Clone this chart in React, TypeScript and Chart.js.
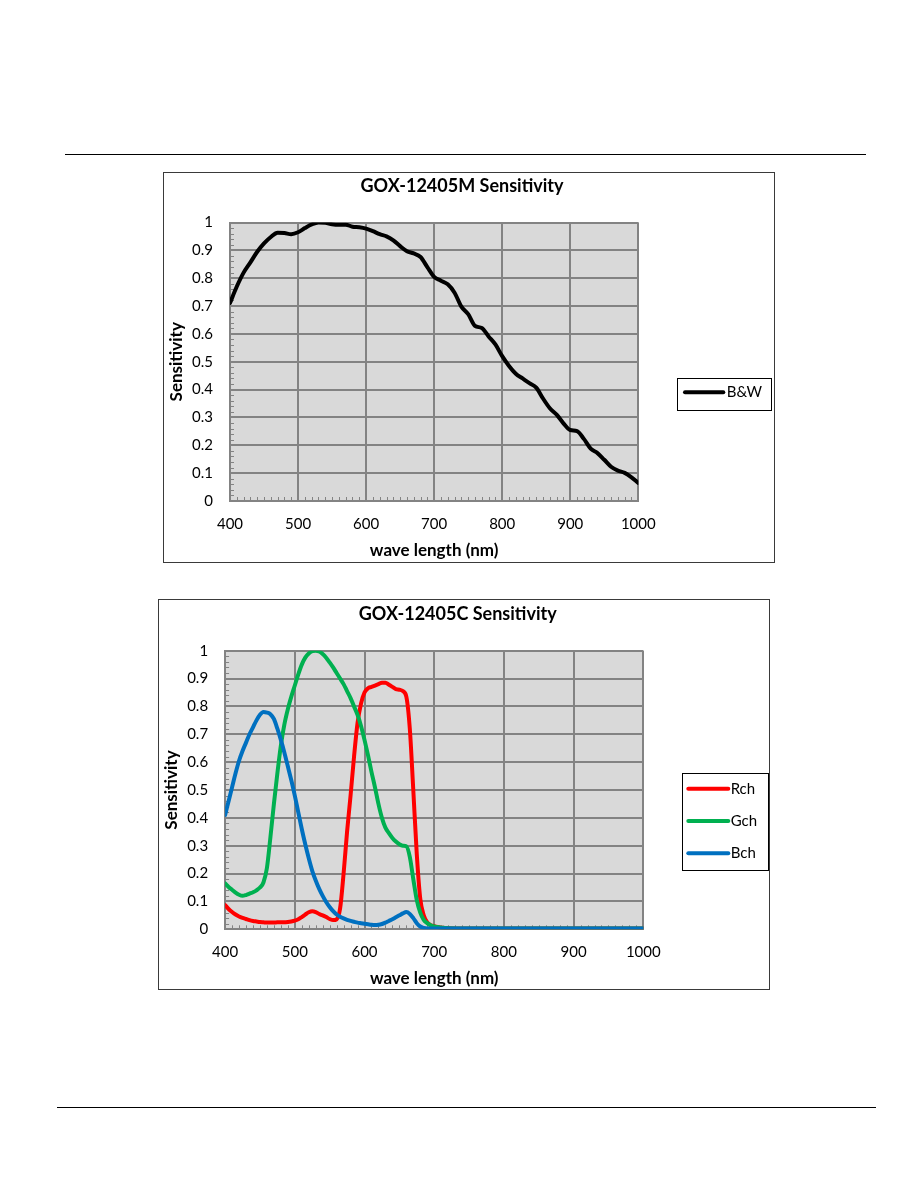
import React, { useEffect, useRef } from 'react';
import { Chart, registerables } from 'chart.js';

Chart.register(...registerables);

// ---------- DATA ----------
const BW_WAVELENGTHS = [
  400, 410, 420, 430, 440, 450, 460, 470, 480, 490,
  500, 510, 520, 530, 540, 550, 560, 570, 580, 590,
  600, 610, 620, 630, 640, 650, 660, 670, 680, 690,
  700, 710, 720, 730, 740, 750, 760, 770, 780, 790,
  800, 810, 820, 830, 840, 850, 860, 870, 880, 890,
  900, 910, 920, 930, 940, 950, 960, 970, 980, 990,
  1000,
];
const BW_VALUES = [
  0.711, 0.77, 0.82, 0.857, 0.895, 0.925, 0.948, 0.963, 0.962, 0.958,
  0.965, 0.98, 0.993, 1.0, 0.999, 0.994, 0.992, 0.992, 0.985, 0.983,
  0.978, 0.969, 0.958, 0.95, 0.936, 0.915, 0.897, 0.889, 0.876, 0.84,
  0.805, 0.791, 0.778, 0.748, 0.698, 0.671, 0.629, 0.621, 0.591, 0.562,
  0.52, 0.485, 0.457, 0.44, 0.423, 0.407, 0.368, 0.333, 0.31, 0.279,
  0.255, 0.251, 0.223, 0.188, 0.172, 0.148, 0.123, 0.109, 0.101, 0.085,
  0.065,
];

const RGB_WAVELENGTHS = [
  400, 405, 410, 415, 420, 425, 430, 435, 440, 445,
  450, 455, 460, 465, 470, 475, 480, 485, 490, 495,
  500, 505, 510, 515, 520, 525, 530, 535, 540, 545,
  550, 555, 560, 565, 570, 575, 580, 585, 590, 595,
  600, 605, 610, 615, 620, 625, 630, 635, 640, 645,
  650, 655, 660, 665, 670, 675, 680, 685, 690, 695,
  700, 705, 710, 715, 720,
  750, 800, 850, 900, 950, 1000,
];
const RCH_VALUES = [
  0.087, 0.073, 0.062, 0.053, 0.046, 0.041, 0.037, 0.033, 0.03, 0.028,
  0.026, 0.025, 0.024, 0.024, 0.024, 0.025, 0.025, 0.025, 0.026, 0.028,
  0.031, 0.036, 0.044, 0.053, 0.061, 0.065, 0.062, 0.055, 0.05, 0.044,
  0.037, 0.033, 0.036, 0.075, 0.2, 0.35, 0.48, 0.62, 0.74, 0.81,
  0.85, 0.865, 0.87, 0.875, 0.88, 0.885, 0.885, 0.878, 0.87, 0.862,
  0.86, 0.855, 0.835, 0.72, 0.5, 0.27, 0.11, 0.05, 0.025, 0.015,
  0.011, 0.008, 0.006, 0.005, 0.004,
  0.003, 0.003, 0.003, 0.003, 0.003, 0.003,
];
const GCH_VALUES = [
  0.165, 0.152, 0.142, 0.132, 0.124, 0.12, 0.123, 0.128, 0.133, 0.14,
  0.15, 0.168, 0.22, 0.33, 0.45, 0.56, 0.66, 0.735, 0.79, 0.835,
  0.875, 0.915, 0.95, 0.975, 0.99, 0.998, 1.0, 0.997, 0.988, 0.975,
  0.958, 0.94, 0.92, 0.9, 0.88, 0.855, 0.83, 0.8, 0.77, 0.73,
  0.68, 0.625, 0.565, 0.51, 0.45, 0.4, 0.365, 0.345, 0.328, 0.315,
  0.305, 0.3, 0.298, 0.26, 0.18, 0.105, 0.06, 0.034, 0.022, 0.014,
  0.01, 0.008, 0.006, 0.005, 0.004,
  0.003, 0.003, 0.003, 0.003, 0.003, 0.003,
];
const BCH_VALUES = [
  0.41, 0.46, 0.51, 0.56, 0.605, 0.64, 0.67, 0.7, 0.725, 0.75,
  0.77, 0.78, 0.778, 0.772, 0.755, 0.72, 0.68, 0.635, 0.585, 0.535,
  0.48, 0.42, 0.36, 0.305, 0.255, 0.21, 0.175, 0.145, 0.12, 0.098,
  0.08, 0.065, 0.053, 0.045, 0.039, 0.034, 0.03, 0.027, 0.024, 0.022,
  0.02, 0.018, 0.016, 0.015, 0.016, 0.019, 0.024, 0.03, 0.036, 0.043,
  0.05, 0.057, 0.062, 0.055, 0.04, 0.022, 0.01, 0.005, 0.003, 0.003,
  0.003, 0.003, 0.003, 0.003, 0.003,
  0.003, 0.003, 0.003, 0.003, 0.003, 0.003,
];

const X_TICK_LABELS = ['400', '500', '600', '700', '800', '900', '1000'];
const Y_TICK_LABELS = ['0', '0.1', '0.2', '0.3', '0.4', '0.5', '0.6', '0.7', '0.8', '0.9', '1'];

// ---------- STYLE ----------
const FONT = 'Lato';
const PLOT_BG = '#d9d9d9';
const GRID_COLOR = '#838383';
const MINOR_X_STEP = 10;
const MINOR_Y_STEP = 0.02;
const CANVAS_W = 610;
const CANVAS_H = 389;

const toPoints = (xs: number[], ys: number[]) => xs.map((x, i) => ({ x, y: ys[i] }));

const lineStyle = (color: string) => ({
  borderColor: color,
  backgroundColor: color,
  borderWidth: 4,
  pointRadius: 0,
  pointHoverRadius: 0,
  cubicInterpolationMode: 'monotone' as const,
  borderCapStyle: 'round' as const,
  borderJoinStyle: 'round' as const,
  fill: false,
});

type Cfg = {
  title: string;
  datasets: any[];
  titlePad: { top: number; bottom: number };
  padRight: number;
  rightSpace: number;
  yAxisWidth: number;
  xAxisHeight: number;
  xTitlePadBottom: number;
  legend: {
    left: number; top: number; width: number; height: number;
    firstRowY: number; rowStep: number; lineStart: number; lineEnd: number; textX: number;
  };
};

function SpectrumChart({ cfg }: { cfg: Cfg }) {
  const ref = useRef<HTMLCanvasElement | null>(null);
  useEffect(() => {
    if (!ref.current) return;
    const plotBg = {
      id: 'plotBg',
      beforeDraw(chart: any) {
        const { ctx, chartArea } = chart;
        ctx.save();
        ctx.fillStyle = PLOT_BG;
        ctx.fillRect(chartArea.left, chartArea.top, chartArea.width, chartArea.height);
        ctx.restore();
      },
    };
    const minorTicks = {
      id: 'minorTicks',
      beforeDatasetsDraw(chart: any) {
        const { ctx, chartArea, scales } = chart;
        const xs = scales.x;
        const ys = scales.y;
        ctx.save();
        ctx.strokeStyle = GRID_COLOR;
        ctx.lineWidth = 1;
        ctx.beginPath();
        const nx = Math.round((xs.max - xs.min) / MINOR_X_STEP);
        for (let i = 0; i <= nx; i++) {
          const px = Math.round(xs.getPixelForValue(xs.min + i * MINOR_X_STEP)) + 0.5;
          ctx.moveTo(px, chartArea.bottom);
          ctx.lineTo(px, chartArea.bottom - 4);
        }
        const ny = Math.round((ys.max - ys.min) / MINOR_Y_STEP);
        for (let i = 0; i <= ny; i++) {
          const py = Math.round(ys.getPixelForValue(ys.min + i * MINOR_Y_STEP)) + 0.5;
          ctx.moveTo(chartArea.left, py);
          ctx.lineTo(chartArea.left + 4, py);
        }
        ctx.stroke();
        ctx.restore();
      },
    };
    const boxLegend = {
      id: 'boxLegend',
      afterDraw(chart: any) {
        const L = cfg.legend;
        const { ctx } = chart;
        ctx.save();
        ctx.fillStyle = '#ffffff';
        ctx.fillRect(L.left, L.top, L.width, L.height);
        ctx.strokeStyle = '#000000';
        ctx.lineWidth = 1;
        ctx.strokeRect(Math.round(L.left) + 0.5, Math.round(L.top) + 0.5, Math.round(L.width), Math.round(L.height));
        chart.data.datasets.forEach((ds: any, i: number) => {
          const y = L.firstRowY + i * L.rowStep;
          ctx.strokeStyle = ds.borderColor;
          ctx.lineWidth = 4;
          ctx.lineCap = 'round';
          ctx.beginPath();
          ctx.moveTo(L.lineStart, y);
          ctx.lineTo(L.lineEnd, y);
          ctx.stroke();
          ctx.fillStyle = '#000000';
          ctx.font = `15px ${FONT}`;
          ctx.textBaseline = 'middle';
          ctx.textAlign = 'left';
          ctx.fillText(ds.label, L.textX, y);
        });
        ctx.restore();
      },
    };

    const chart = new Chart(ref.current, {
      type: 'line',
      data: { datasets: cfg.datasets },
      options: {
        responsive: false,
        maintainAspectRatio: false,
        animation: false,
        events: [],
        layout: { padding: { left: 0, right: cfg.padRight, top: 0, bottom: 0 }, autoPadding: false },
        plugins: {
          legend: { display: false },
          tooltip: { enabled: false },
          title: {
            display: true,
            text: cfg.title,
            color: '#000',
            font: { family: FONT, size: 18, weight: 'bold' },
            padding: cfg.titlePad,
          },
        },
        scales: {
          x: {
            type: 'linear',
            position: 'bottom',
            min: 400,
            max: 1000,
            afterFit: (s: any) => { s.height = cfg.xAxisHeight; },
            grid: { color: GRID_COLOR, lineWidth: 2, drawTicks: false },
            border: { color: GRID_COLOR, width: 2 },
            ticks: {
              stepSize: 100,
              padding: 14,
              maxRotation: 0,
              autoSkip: false,
              color: '#000',
              font: { family: FONT, size: 15 },
              callback: (v: any, i: number) => X_TICK_LABELS[i] ?? String(v),
            },
            title: {
              display: true,
              text: 'wave length (nm)',
              color: '#000',
              font: { family: FONT, size: 17, weight: 'bold' },
              padding: { top: 0, bottom: cfg.xTitlePadBottom },
            },
          },
          y: {
            type: 'linear',
            position: 'left',
            min: 0,
            max: 1,
            afterFit: (s: any) => { s.width = cfg.yAxisWidth; },
            grid: { color: GRID_COLOR, lineWidth: 2, drawTicks: false },
            border: { color: GRID_COLOR, width: 2 },
            ticks: {
              stepSize: 0.1,
              padding: 17,
              color: '#000',
              font: { family: FONT, size: 15 },
              callback: (v: any, i: number) => Y_TICK_LABELS[i] ?? String(v),
            },
            title: {
              display: true,
              text: 'Sensitivity',
              color: '#000',
              font: { family: FONT, size: 17, weight: 'bold' },
              padding: { top: 2.4, bottom: 0 },
            },
          },
          legendSpace: {
            type: 'linear',
            position: 'right',
            display: true,
            afterFit: (s: any) => { s.width = cfg.rightSpace; },
            grid: { display: false, drawTicks: false },
            border: { display: false },
            ticks: { display: false },
          },
        },
      } as any,
      plugins: [plotBg, minorTicks, boxLegend],
    });
    return () => chart.destroy();
  }, [cfg]);
  return <canvas ref={ref} width={CANVAS_W} height={CANVAS_H} style={{ display: 'block' }} />;
}

const MONO_CFG: Cfg = {
  title: 'GOX-12405M Sensitivity',
  datasets: [
    { label: 'B&W', data: toPoints(BW_WAVELENGTHS, BW_VALUES), ...lineStyle('#000000') },
  ],
  titlePad: { top: 2.7, bottom: 25.2 },
  padRight: 14,
  rightSpace: 121.7,
  yAxisWidth: 66,
  xAxisHeight: 61,
  xTitlePadBottom: 0.8,
  legend: {
    left: 512.7, top: 205.3, width: 94.3, height: 31.7,
    firstRowY: 219.3, rowStep: 0, lineStart: 521, lineEnd: 559.3, textX: 562.7,
  },
};

const COLOR_CFG: Cfg = {
  title: 'GOX-12405C Sensitivity',
  datasets: [
    { label: 'Rch', data: toPoints(RGB_WAVELENGTHS, RCH_VALUES), order: 2, ...lineStyle('#ff0000') },
    { label: 'Gch', data: toPoints(RGB_WAVELENGTHS, GCH_VALUES), order: 1, ...lineStyle('#00b050') },
    { label: 'Bch', data: toPoints(RGB_WAVELENGTHS, BCH_VALUES), order: 0, ...lineStyle('#0070c0') },
  ],
  titlePad: { top: 3.5, bottom: 25.6 },
  padRight: 12.6,
  rightSpace: 113.1,
  yAxisWidth: 66.1,
  xAxisHeight: 59.7,
  xTitlePadBottom: 0,
  legend: {
    left: 522.7, top: 172.7, width: 85.6, height: 97.3,
    firstRowY: 188.7, rowStep: 32.3, lineStart: 529.3, lineEnd: 569.3, textX: 571.7,
  },
};

const boxStyle = (left: number, top: number): React.CSSProperties => ({
  position: 'absolute',
  left,
  top,
  width: 612,
  height: 391,
  border: '1px solid #3a3a3a',
  boxSizing: 'border-box',
  background: '#fff',
});

export default function App() {
  return (
    <div style={{ position: 'absolute', left: 0, top: 0, width: 918, height: 1188, overflow: 'hidden', background: '#fff' }}>
      <div style={{ position: 'absolute', left: 65, top: 154, width: 801, height: 1, background: '#000' }} />
      <div style={boxStyle(163, 172)}>
        <SpectrumChart cfg={MONO_CFG} />
      </div>
      <div style={boxStyle(158, 599)}>
        <SpectrumChart cfg={COLOR_CFG} />
      </div>
      <div style={{ position: 'absolute', left: 57, top: 1107, width: 819, height: 1, background: '#000' }} />
    </div>
  );
}
